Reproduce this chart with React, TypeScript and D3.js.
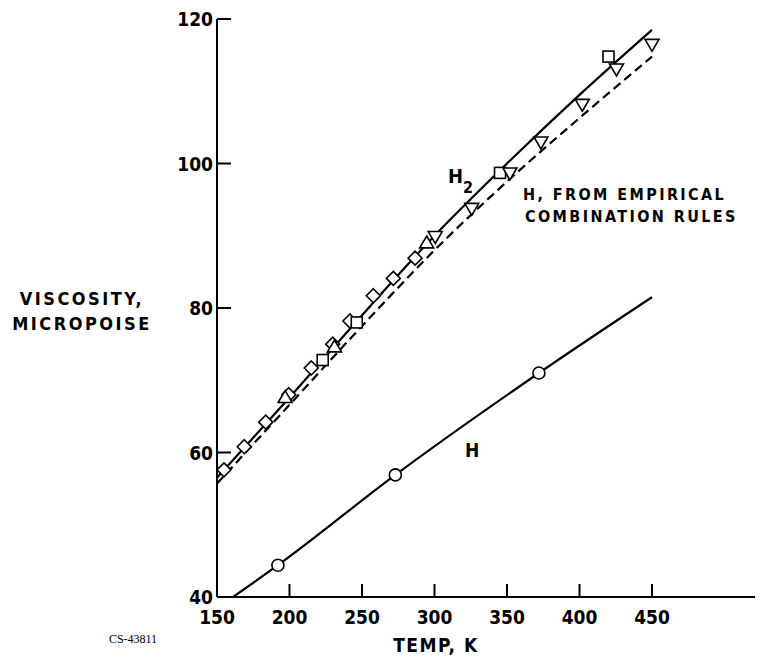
import React from "react";
import * as d3 from "d3";

// ---------- data ----------
const xTicks = [150, 200, 250, 300, 350, 400, 450];
const yTicks = [40, 60, 80, 100, 120];

// H2 measured points by symbol
const h2Diamonds: [number, number][] = [
  [154.8, 57.6], [168.8, 60.8], [183.6, 64.2], [199.5, 68.0], [215.0, 71.7],
  [229.8, 75.0], [241.7, 78.2], [257.8, 81.7], [271.6, 84.1], [286.6, 86.9],
];
const h2Squares: [number, number][] = [
  [222.9, 72.8], [246.4, 78.0], [345.2, 98.7], [420.0, 114.8],
];
const h2TriUp: [number, number][] = [
  [197.0, 67.6], [231.0, 74.6], [294.6, 89.0],
];
const h2TriDown: [number, number][] = [
  [300.5, 89.9], [325.7, 93.8], [352.0, 98.7], [373.4, 103.0],
  [401.9, 108.2], [425.5, 113.1], [450.0, 116.5],
];
const hCircles: [number, number][] = [[192, 44.4], [273, 56.9], [372, 71.0]];

// curves
const h2Solid: [number, number][] = [
  [150, 56.5], [200, 67.6], [250, 79.0], [300, 90.0], [350, 100.0], [400, 109.5], [450, 118.5],
];
const hEmpirical: [number, number][] = [
  [150, 55.7], [200, 66.6], [250, 77.5], [300, 88.0], [350, 97.5], [400, 106.3], [450, 114.8],
];
const hLine: [number, number][] = [
  [161, 40], [192, 44.4], [273, 56.9], [372, 71.0], [450, 81.5],
];

const FONT = "'DejaVu Sans Condensed', 'Liberation Sans Narrow', 'DejaVu Sans', sans-serif";

export default function App() {
  const x = d3.scaleLinear().domain([150, 450]).range([217, 652]);
  const y = d3.scaleLinear().domain([40, 120]).range([597, 19]);
  const line = d3
    .line<[number, number]>()
    .x((d) => x(d[0]))
    .y((d) => y(d[1]))
    .curve(d3.curveMonotoneX);

  const sq = 9;
  const dia = 7;
  const tri = 7;

  return (
    <svg
      width={770}
      height={660}
      style={{ position: "absolute", left: 0, top: 0, background: "#fff" }}
      fontFamily={FONT}
      fontWeight="bold"
    >
      <rect width={770} height={660} fill="#fff" />
      {/* axes */}
      <line x1={x(150)} x2={x(150)} y1={y(120)} y2={y(40)} stroke="#000" strokeWidth={2} />
      <line x1={x(150)} x2={755} y1={y(40)} y2={y(40)} stroke="#000" strokeWidth={2} />
      {yTicks.filter((t) => t > 40).map((t) => (
        <line key={"yt" + t} x1={x(150)} x2={x(150) + 14} y1={y(t)} y2={y(t)} stroke="#000" strokeWidth={2} />
      ))}
      {xTicks.filter((t) => t > 150).map((t) => (
        <line key={"xt" + t} x1={x(t)} x2={x(t)} y1={y(40)} y2={y(40) - 13} stroke="#000" strokeWidth={2} />
      ))}
      {yTicks.map((t) => (
        <text key={"yl" + t} x={x(150) - 4} y={y(t) + 7} textAnchor="end" fontSize={19} fill="#000">
          {t}
        </text>
      ))}
      {xTicks.map((t) => (
        <text key={"xl" + t} x={x(t)} y={624} textAnchor="middle" fontSize={19} fill="#000">
          {t}
        </text>
      ))}
      <text x={436} y={652} textAnchor="middle" fontSize={19} letterSpacing={1.5} fill="#000">
        TEMP, K
      </text>
      <text x={82} y={305} textAnchor="middle" fontSize={18} letterSpacing={2.5} fill="#000">
        VISCOSITY,
      </text>
      <text x={82} y={330} textAnchor="middle" fontSize={18} letterSpacing={2.5} fill="#000">
        MICROPOISE
      </text>
      <text x={133} y={643} textAnchor="middle" fontSize={12} fontWeight="normal" fontFamily="'Liberation Serif', serif" fill="#000">
        CS-43811
      </text>

      {/* curves */}
      <path d={line(hEmpirical) || ""} fill="none" stroke="#000" strokeWidth={2.2} strokeDasharray="9,5" />
      <path d={line(h2Solid) || ""} fill="none" stroke="#000" strokeWidth={2.2} />
      <path d={line(hLine) || ""} fill="none" stroke="#000" strokeWidth={2.2} />

      {/* markers */}
      {h2Diamonds.map((d, i) => (
        <path
          key={"d" + i}
          d={`M${x(d[0])},${y(d[1]) - dia}L${x(d[0]) + dia},${y(d[1])}L${x(d[0])},${y(d[1]) + dia}L${x(d[0]) - dia},${y(d[1])}Z`}
          fill="#fff"
          stroke="#000"
          strokeWidth={1.6}
        />
      ))}
      {h2Squares.map((d, i) => (
        <rect key={"s" + i} x={x(d[0]) - sq / 2 - 1} y={y(d[1]) - sq / 2 - 1} width={sq + 2} height={sq + 2} fill="#fff" stroke="#000" strokeWidth={1.6} />
      ))}
      {h2TriUp.map((d, i) => (
        <path
          key={"tu" + i}
          d={`M${x(d[0])},${y(d[1]) - tri}L${x(d[0]) + tri},${y(d[1]) + tri * 0.7}L${x(d[0]) - tri},${y(d[1]) + tri * 0.7}Z`}
          fill="#fff"
          stroke="#000"
          strokeWidth={1.6}
        />
      ))}
      {h2TriDown.map((d, i) => (
        <path
          key={"td" + i}
          d={`M${x(d[0])},${y(d[1]) + tri}L${x(d[0]) + tri},${y(d[1]) - tri * 0.7}L${x(d[0]) - tri},${y(d[1]) - tri * 0.7}Z`}
          fill="#fff"
          stroke="#000"
          strokeWidth={1.6}
        />
      ))}
      {hCircles.map((d, i) => (
        <circle key={"c" + i} cx={x(d[0])} cy={y(d[1])} r={6} fill="#fff" stroke="#000" strokeWidth={1.6} />
      ))}

      {/* labels */}
      <text x={448} y={183} fontSize={20} fill="#000">
        H
      </text>
      <text x={463} y={193} fontSize={16} fill="#000">
        2
      </text>
      <text x={465} y={457} fontSize={19} fill="#000">
        H
      </text>
      <text x={523} y={200} fontSize={16} letterSpacing={2.4} fill="#000">
        H, FROM EMPIRICAL
      </text>
      <text x={525} y={222} fontSize={16} letterSpacing={2.4} fill="#000">
        COMBINATION RULES
      </text>
    </svg>
  );
}
